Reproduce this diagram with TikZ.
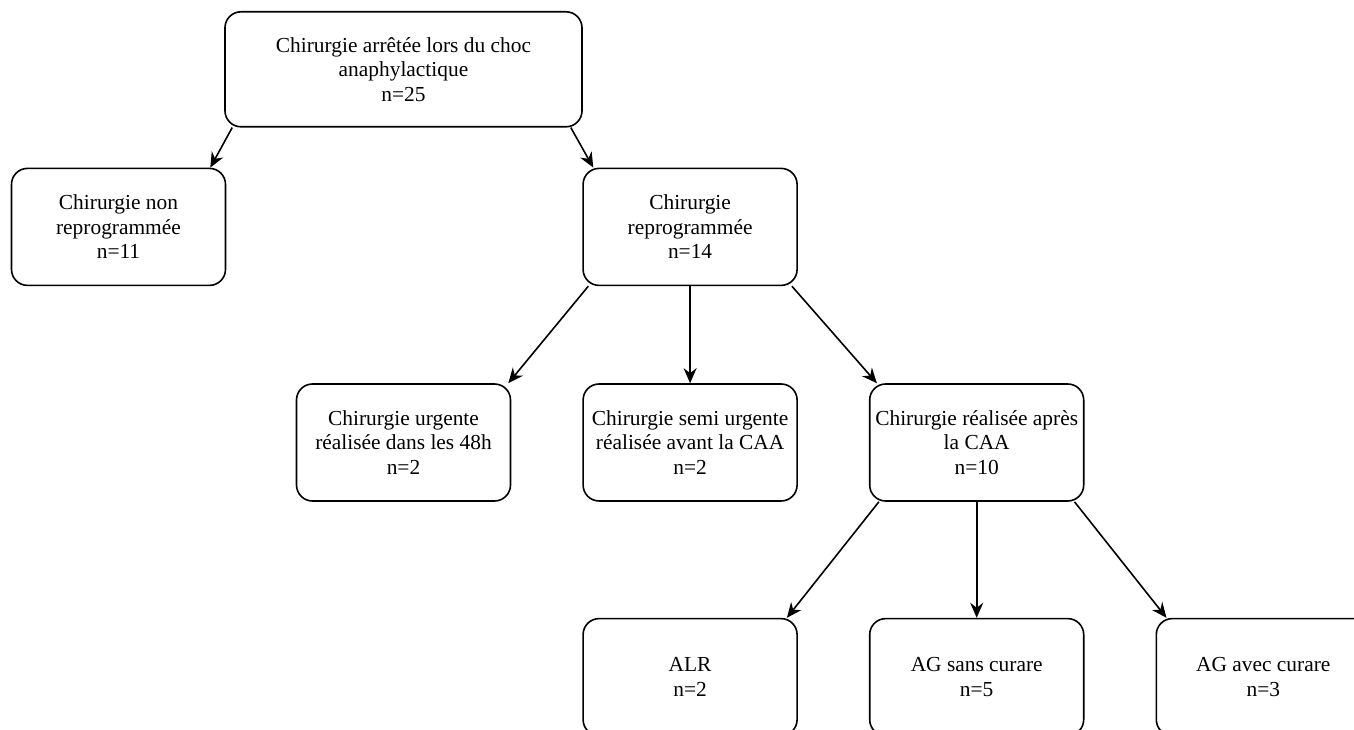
\documentclass[tikz,border=0pt]{standalone}
\usepackage{fontspec}
\setmainfont{Liberation Serif}
\usetikzlibrary{arrows.meta, positioning}

\begin{document}
\begin{tikzpicture}[
    node distance=48.5pt and 35.5pt,
    box/.style={draw, line width=0.8pt, rounded corners=8pt, minimum width=107pt, minimum height=58.5pt,
      inner sep=2pt, align=center, font=\fontsize{10.7}{12.2}\selectfont},
    rootbox/.style={box, minimum width=178.5pt, minimum height=57.5pt},
    arrow/.style={-{Stealth[length=7.5pt, width=6.5pt]}, line width=0.8pt},
  ]

  % Frame of the page
  \clip (-201.75pt,-143.25pt) rectangle (475.25pt,221.25pt);

  % Second level
  \node[box] (urg) at (0,0) {Chirurgie urgente\\réalisée dans les 48h\\n=2};
  \node[box, right=of urg] (semi) {Chirurgie semi urgente\\réalisée avant la CAA\\n=2};
  \node[box, right=of semi] (apres) {Chirurgie réalisée après\\la CAA\\n=10};

  % First level
  \node[box, above=of semi] (reprog) {Chirurgie\\reprogrammée\\n=14};
  \node[box, left=178pt of reprog] (nonrep) {Chirurgie non\\reprogrammée\\n=11};

  % Top
  \node[rootbox, anchor=south] (root) at ([yshift=20pt]urg.center |- reprog.north)
    {Chirurgie arrêtée lors du choc\\anaphylactique\\n=25};

  % Anaesthesia
  \node[box, below=58pt of semi] (alr) {ALR\\n=2};
  \node[box, below=58pt of apres] (agsans) {AG sans curare\\n=5};
  \node[box, right=of agsans] (agavec) {AG avec curare\\n=3};

  % Arrows
  \draw[arrow] ([xshift=4pt]root.south west) -- ([xshift=-8pt]nonrep.north east);
  \draw[arrow] ([xshift=-6pt]root.south east) -- ([xshift=5.5pt]reprog.north west);
  \draw[arrow] ([xshift=3pt]reprog.south west) -- ([xshift=-1.5pt]urg.north east);
  \draw[arrow] (reprog) -- (semi);
  \draw[arrow] ([xshift=-3pt]reprog.south east) -- ([xshift=4pt]apres.north west);
  \draw[arrow] ([xshift=5pt]apres.south west) -- ([xshift=-5.5pt]alr.north east);
  \draw[arrow] (apres) -- (agsans);
  \draw[arrow] ([xshift=-5pt]apres.south east) -- ([xshift=5.5pt]agavec.north west);

\end{tikzpicture}
\end{document}
